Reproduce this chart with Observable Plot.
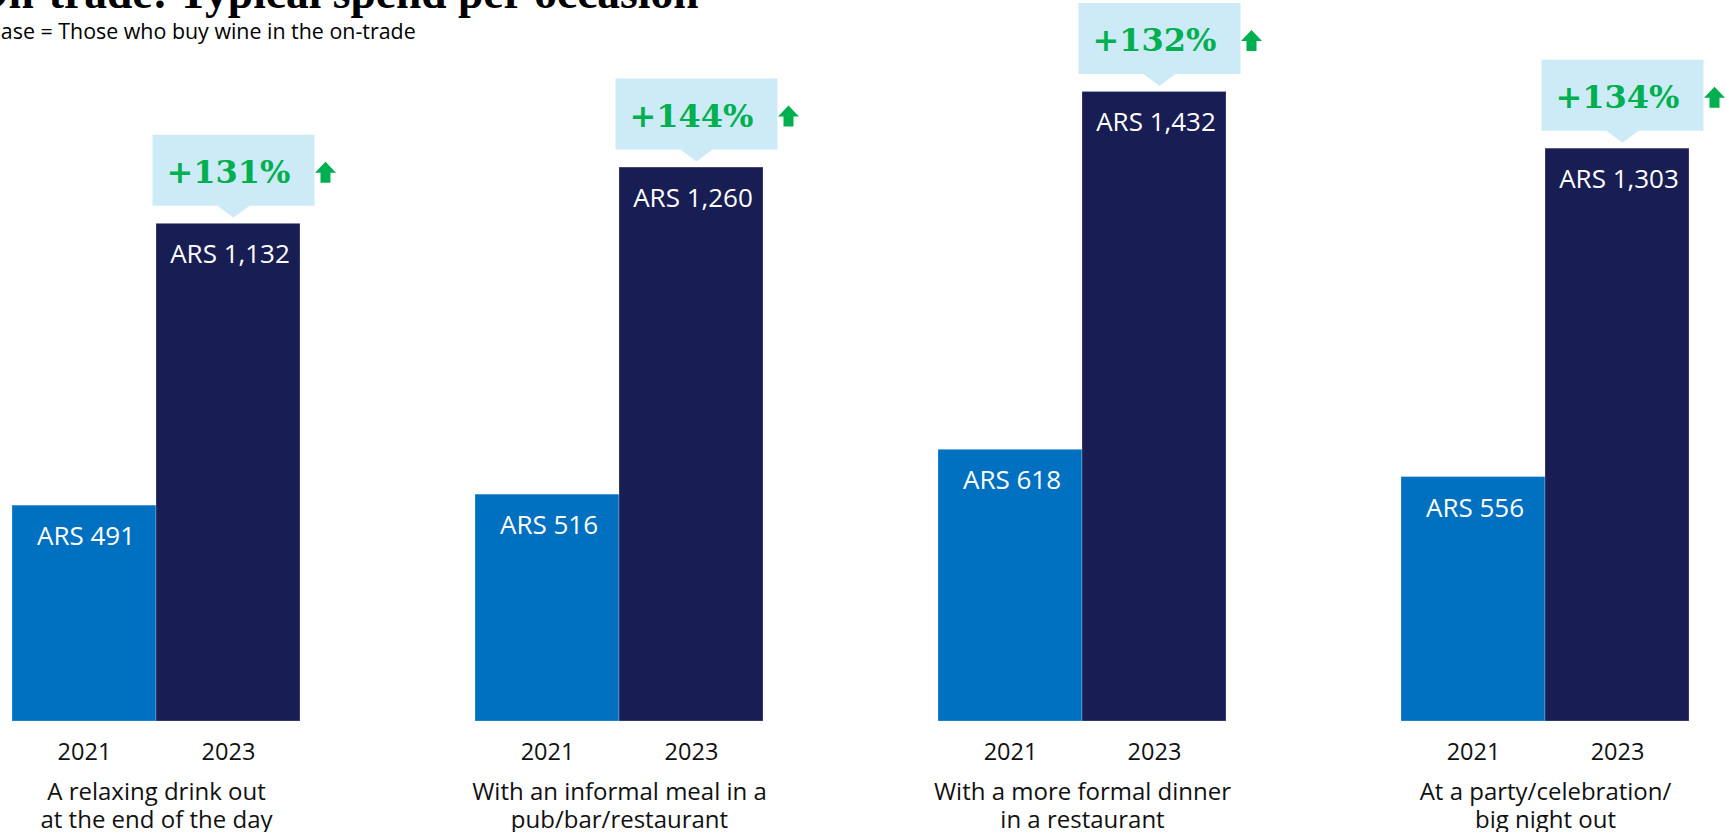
<!DOCTYPE html>
<html>
<head>
<meta charset="utf-8">
<script src="https://cdn.jsdelivr.net/npm/d3@7"></script>
<script src="https://cdn.jsdelivr.net/npm/@observablehq/plot@0.6"></script>
<style>
  html, body { margin: 0; padding: 0; background: #fff; }
  body { width: 1726px; height: 832px; overflow: hidden; position: relative; }
  #title { position: absolute; left: -27px; top: -30px; font-family: "Liberation Serif", serif; font-weight: bold; font-size: 45.5px; line-height: 45.5px; color: #000; white-space: nowrap; }
  #subtitle { position: absolute; left: -13px; top: 20px; font-family: "Open Sans", sans-serif; font-size: 21.4px; line-height: 21.4px; color: #000; white-space: nowrap; }
  #chart { position: absolute; left: 0; top: 0; }
</style>
</head>
<body>
<div id="chart"></div>
<div id="title">On-trade: Typical spend per occasion</div>
<div id="subtitle">Base = Those who buy wine in the on-trade</div>
<script>
// ---- data ----
const occasions = [
  "A relaxing drink out\nat the end of the day",
  "With an informal meal in a\npub/bar/restaurant",
  "With a more formal dinner\nin a restaurant",
  "At a party/celebration/\nbig night out"
];
const years = ["2021", "2023"];
const spend2021 = [491, 516, 618, 556];
const spend2023 = [1132, 1260, 1432, 1303];
const changeLabels = ["+131%", "+144%", "+132%", "+134%"];
const currency = "ARS";

// ---- tables built from the arrays ----
const rows = [];
occasions.forEach((o, i) => {
  rows.push({occasion: o, year: years[0], value: spend2021[i]});
  rows.push({occasion: o, year: years[1], value: spend2023[i], change: changeLabels[i]});
});
const rowsLatest = rows.filter(d => d.year === years[1]);

// callout box with a downward pointer, drawn relative to the bar top
const calloutSymbol = {
  draw(ctx) {
    const cx = 5, w = 162, top = -89, bottom = -18, apex = -6, half = 16;
    ctx.moveTo(cx - w / 2, top);
    ctx.lineTo(cx + w / 2, top);
    ctx.lineTo(cx + w / 2, bottom);
    ctx.lineTo(cx + half, bottom);
    ctx.lineTo(cx, apex);
    ctx.lineTo(cx - half, bottom);
    ctx.lineTo(cx - w / 2, bottom);
    ctx.closePath();
  }
};
// green up arrow, to the right of the callout
const arrowSymbol = {
  draw(ctx) {
    const cx = 97;
    ctx.moveTo(cx, -62);
    ctx.lineTo(cx + 10.5, -51);
    ctx.lineTo(cx + 5, -51);
    ctx.lineTo(cx + 5, -41);
    ctx.lineTo(cx - 5, -41);
    ctx.lineTo(cx - 5, -51);
    ctx.lineTo(cx - 10.5, -51);
    ctx.closePath();
  }
};

const fmt = d3.format(",");

const chart = Plot.plot({
  width: 1726,
  height: 832,
  marginTop: 0,
  marginLeft: 12,
  marginRight: 37,
  marginBottom: 111,
  style: {fontFamily: "Open Sans", overflow: "visible", background: "transparent"},
  fx: {domain: occasions, paddingInner: 0.378, paddingOuter: 0, round: false, axis: null},
  x: {domain: years, padding: 0, round: false, axis: null},
  y: {domain: [0, 1640], axis: null},
  color: {domain: years, range: ["#0070c0", "#181d53"]},
  marks: [
    Plot.barY(rows, {fx: "occasion", x: "year", y: "value", fill: "year", stroke: "#ffffff", strokeOpacity: 0.25, strokeWidth: 1}),
    Plot.text(rows, {fx: "occasion", x: "year", y: "value", text: d => `${currency} ${fmt(d.value)}`,
      fill: "white", fontSize: 26, lineAnchor: "top", dy: 21, dx: 1.5}),
    Plot.text(rows, {fx: "occasion", x: "year", text: "year", frameAnchor: "bottom",
      lineAnchor: "bottom", dy: 38, fontSize: 23.5, fill: "#111"}),
    Plot.text(occasions, {fx: d => d, text: d => d, frameAnchor: "bottom",
      lineAnchor: "bottom", dy: 106, fontSize: 24, lineHeight: 1.13, fill: "#111"}),
    Plot.dot(rowsLatest, {fx: "occasion", x: "year", y: "value", symbol: calloutSymbol, r: 10, fill: "#cdeaf7"}),
    Plot.dot(rowsLatest, {fx: "occasion", x: "year", y: "value", symbol: arrowSymbol, r: 10, fill: "#00b050"}),
    Plot.text(rowsLatest, {fx: "occasion", x: "year", y: "value", text: "change", dy: -51,
      lineAnchor: "middle", fill: "#00b050", fontSize: 32, fontWeight: "bold", fontFamily: "DejaVu Serif"})
  ]
});
document.getElementById("chart").appendChild(chart);
</script>
</body>
</html>
